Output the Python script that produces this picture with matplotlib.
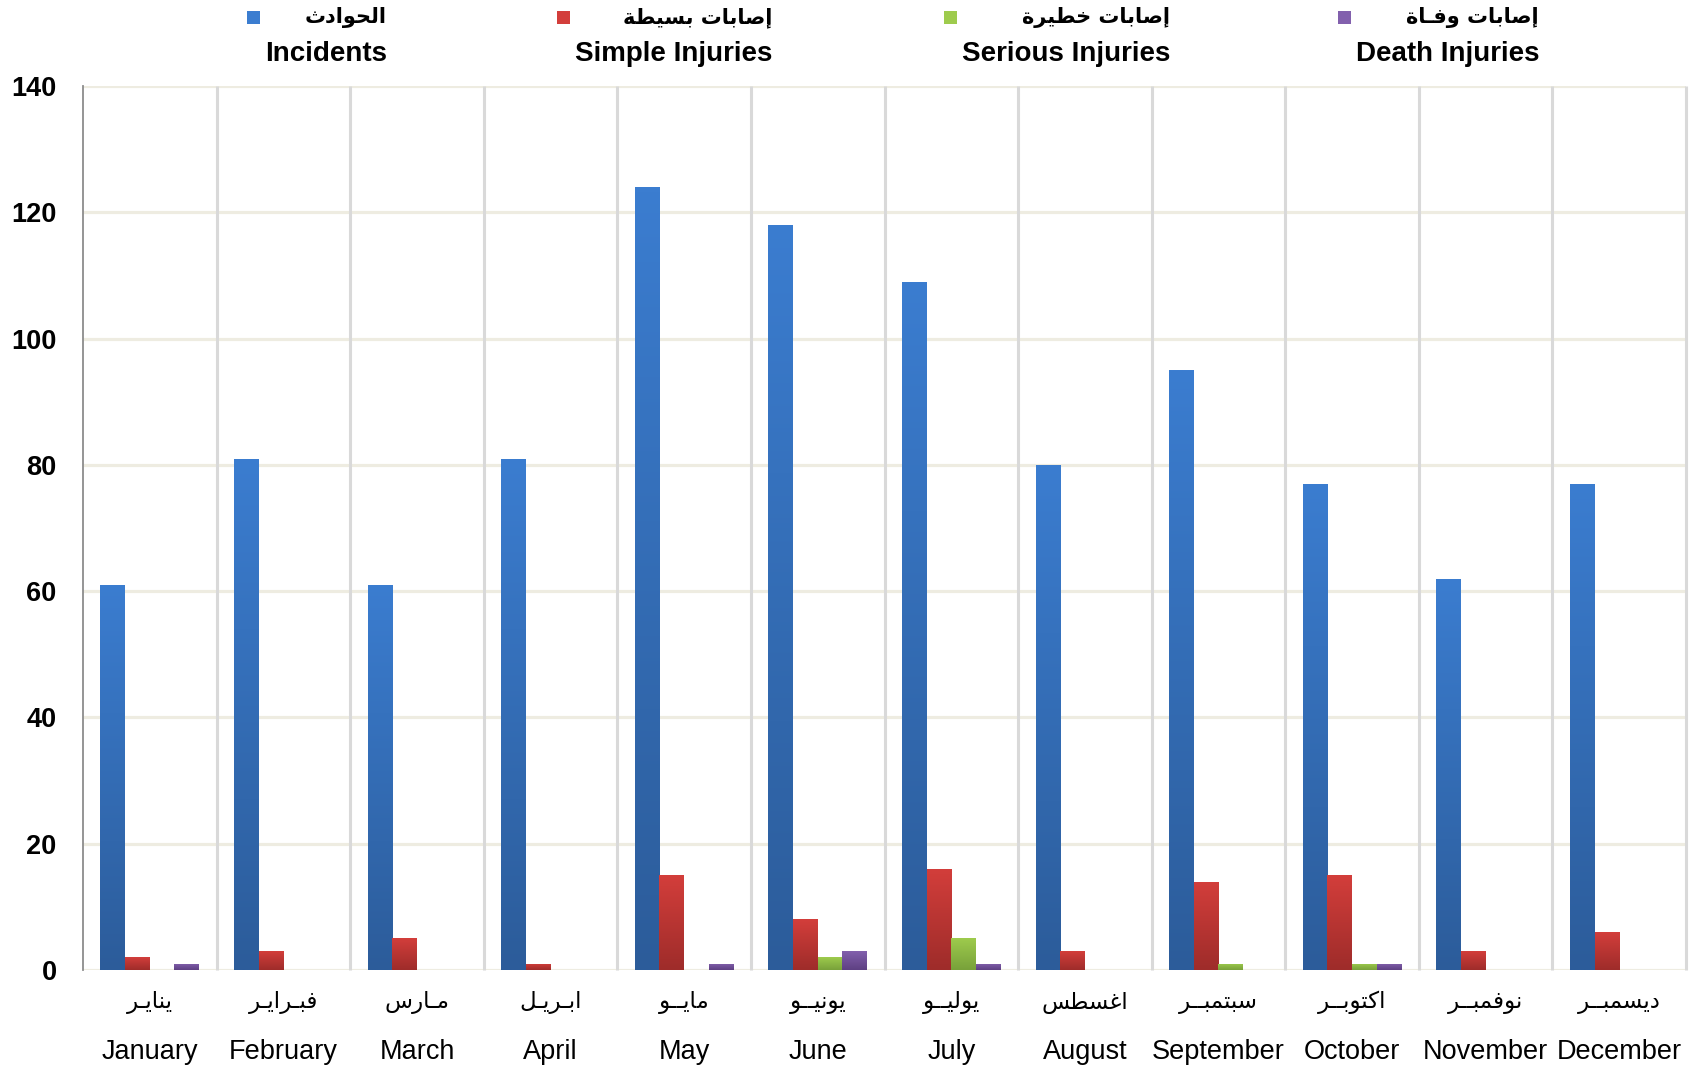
import numpy as np
import matplotlib
matplotlib.use("Agg")
import matplotlib.pyplot as plt
import matplotlib.transforms as mtransforms
from matplotlib.colors import LinearSegmentedColormap
from matplotlib.patches import Rectangle
from matplotlib import font_manager

# ---------------- data ----------------
months_en = ["January", "February", "March", "April", "May", "June", "July",
             "August", "September", "October", "November", "December"]
months_ar = ["ينايـر", "فبـرايـر", "مـارس", "ابـريـل", "مايــو", "يونيــو",
             "يوليــو", "اغسطس", "سبتمبــر", "اكتوبــر", "نوفمبــر", "ديسمبــر"]

series_en = ["Incidents", "Simple Injuries", "Serious Injuries", "Death Injuries"]
series_ar = ["الحوادث", "إصابات بسيطة", "إصابات خطيرة", "إصابات وفـاة"]

incidents = [61, 81, 61, 81, 124, 118, 109, 80, 95, 77, 62, 77]
simple_inj = [2, 3, 5, 1, 15, 8, 16, 3, 14, 15, 3, 6]
serious_inj = [0, 0, 0, 0, 0, 2, 5, 0, 1, 1, 0, 0]
death_inj = [1, 0, 0, 0, 1, 3, 1, 0, 0, 1, 0, 0]

yticks = [0, 20, 40, 60, 80, 100, 120, 140]

# (bottom colour, top colour) for each series gradient
colors = [("#2c5c9a", "#3b7dd0"),
          ("#9e2c2a", "#d33e3b"),
          ("#78a13a", "#9ecb4d"),
          ("#5e4082", "#8260ad")]


# ---------------- minimal Arabic shaping (matplotlib has no shaper) ----------------
# base code point of presentation forms; True = joins on both sides
AR_FORMS = {
    'ا': (0xFE8D, False), 'إ': (0xFE87, False), 'ب': (0xFE8F, True),
    'ة': (0xFE93, False), 'ت': (0xFE95, True), 'ث': (0xFE99, True),
    'ح': (0xFEA1, True), 'خ': (0xFEA5, True), 'د': (0xFEA9, False),
    'ر': (0xFEAD, False), 'س': (0xFEB1, True), 'ص': (0xFEB9, True),
    'ط': (0xFEC1, True), 'غ': (0xFECD, True), 'ف': (0xFED1, True),
    'ك': (0xFED9, True), 'ل': (0xFEDD, True), 'م': (0xFEE1, True),
    'ن': (0xFEE5, True), 'و': (0xFEED, False), 'ي': (0xFEF1, True),
}
TATWEEL = 'ـ'


def joins(c):
    return c == TATWEEL or c in AR_FORMS


def dual(c):
    return c == TATWEEL or (c in AR_FORMS and AR_FORMS[c][1])


def shape_ar(s):
    out = []
    for i, c in enumerate(s):
        if c not in AR_FORMS:
            out.append(c)
            continue
        base, is_dual = AR_FORMS[c]
        prev_j = i > 0 and dual(s[i - 1])
        next_j = is_dual and i + 1 < len(s) and joins(s[i + 1])
        if prev_j and next_j:
            off = 3
        elif prev_j:
            off = 1
        elif next_j:
            off = 2
        else:
            off = 0
        out.append(chr(base + off))
    return "".join(out)[::-1]


# ---------------- fonts ----------------
names = {f.name for f in font_manager.fontManager.ttflist}
narrow = "Liberation Sans Narrow" if "Liberation Sans Narrow" in names else "Liberation Sans"
en_font = [narrow, "DejaVu Sans"]
ar_font = ["DejaVu Sans"]

# ---------------- figure ----------------
fig = plt.figure(figsize=(16.94, 10.68), dpi=100)
ax = fig.add_axes([83 / 1694, 1 - 970 / 1068, (1686 - 83) / 1694, (970 - 86) / 1068])

x = np.arange(len(months_en))
bw = 0.1847
data = [incidents, simple_inj, serious_inj, death_inj]
grad = np.linspace(1, 0, 256).reshape(-1, 1)

for j, vals in enumerate(data):
    offs = (j - 1.5) * bw
    bars = ax.bar(x + offs, vals, width=bw, color=colors[j][1], zorder=3, linewidth=0)
    cmap = LinearSegmentedColormap.from_list("g%d" % j, list(colors[j]))
    for rect, v in zip(bars, vals):
        if v <= 0:
            continue
        x0 = rect.get_x()
        im = ax.imshow(grad, extent=(x0, x0 + rect.get_width(), 0, v), cmap=cmap,
                       aspect="auto", zorder=4, interpolation="bilinear", vmin=0, vmax=1)
        im.set_clip_path(rect)

ax.set_xlim(-0.5, len(months_en) - 0.5)
ax.set_ylim(0, 140)
ax.set_aspect("auto")

# grid
ax.set_axisbelow(True)
ax.set_yticks(yticks)
ax.yaxis.grid(True, color="#eeece1", linewidth=2.3, zorder=0)
ax.vlines(np.arange(len(months_en)) + 0.5, 0, 140, colors="#d9d9d9",
          linewidth=2.2, zorder=1, clip_on=False)

for side in ["top", "right", "bottom"]:
    ax.spines[side].set_visible(False)
ax.spines["left"].set_color("#8c8c8c")
ax.spines["left"].set_linewidth(1.3)

ax.tick_params(axis="both", length=0)
ax.tick_params(axis="y", pad=19)
ax.set_yticklabels([str(t) for t in yticks], fontsize=19.5, fontweight="bold",
                   family=["Liberation Sans", "DejaVu Sans"])
ax.set_xticks([])

# x labels: Arabic above, English below
tr = mtransforms.blended_transform_factory(ax.transData, ax.transAxes)
for i in range(len(months_en)):
    ax.text(x[i], -0.0362, shape_ar(months_ar[i]), transform=tr, ha="center",
            va="center", fontsize=16.5, family=ar_font)
    ax.text(x[i], -0.093, months_en[i], transform=tr, ha="center",
            va="center", fontsize=19.5, family=en_font)

# legend, drawn by hand: marker + Arabic line + English line, right aligned
leg_right = [387, 772, 1170, 1539]
fig.canvas.draw()
renderer = fig.canvas.get_renderer()
for j in range(len(series_en)):
    xr = leg_right[j] / 1694
    fig.text(xr, 1 - 18 / 1068, shape_ar(series_ar[j]), ha="right", va="center",
             fontsize=15, fontweight="bold", family=ar_font)
    t_en = fig.text(xr, 1 - 54 / 1068, series_en[j], ha="right", va="center",
                    fontsize=20, fontweight="bold", family=en_font)
    bb = t_en.get_window_extent(renderer)
    sq = 13
    fig.add_artist(Rectangle(((bb.x0 - 5 - sq) / 1694, (1068 - 17 - sq / 2) / 1068),
                             sq / 1694, sq / 1068, transform=fig.transFigure,
                             facecolor=colors[j][1], edgecolor="none"))

fig.savefig("out.png", dpi=100)
